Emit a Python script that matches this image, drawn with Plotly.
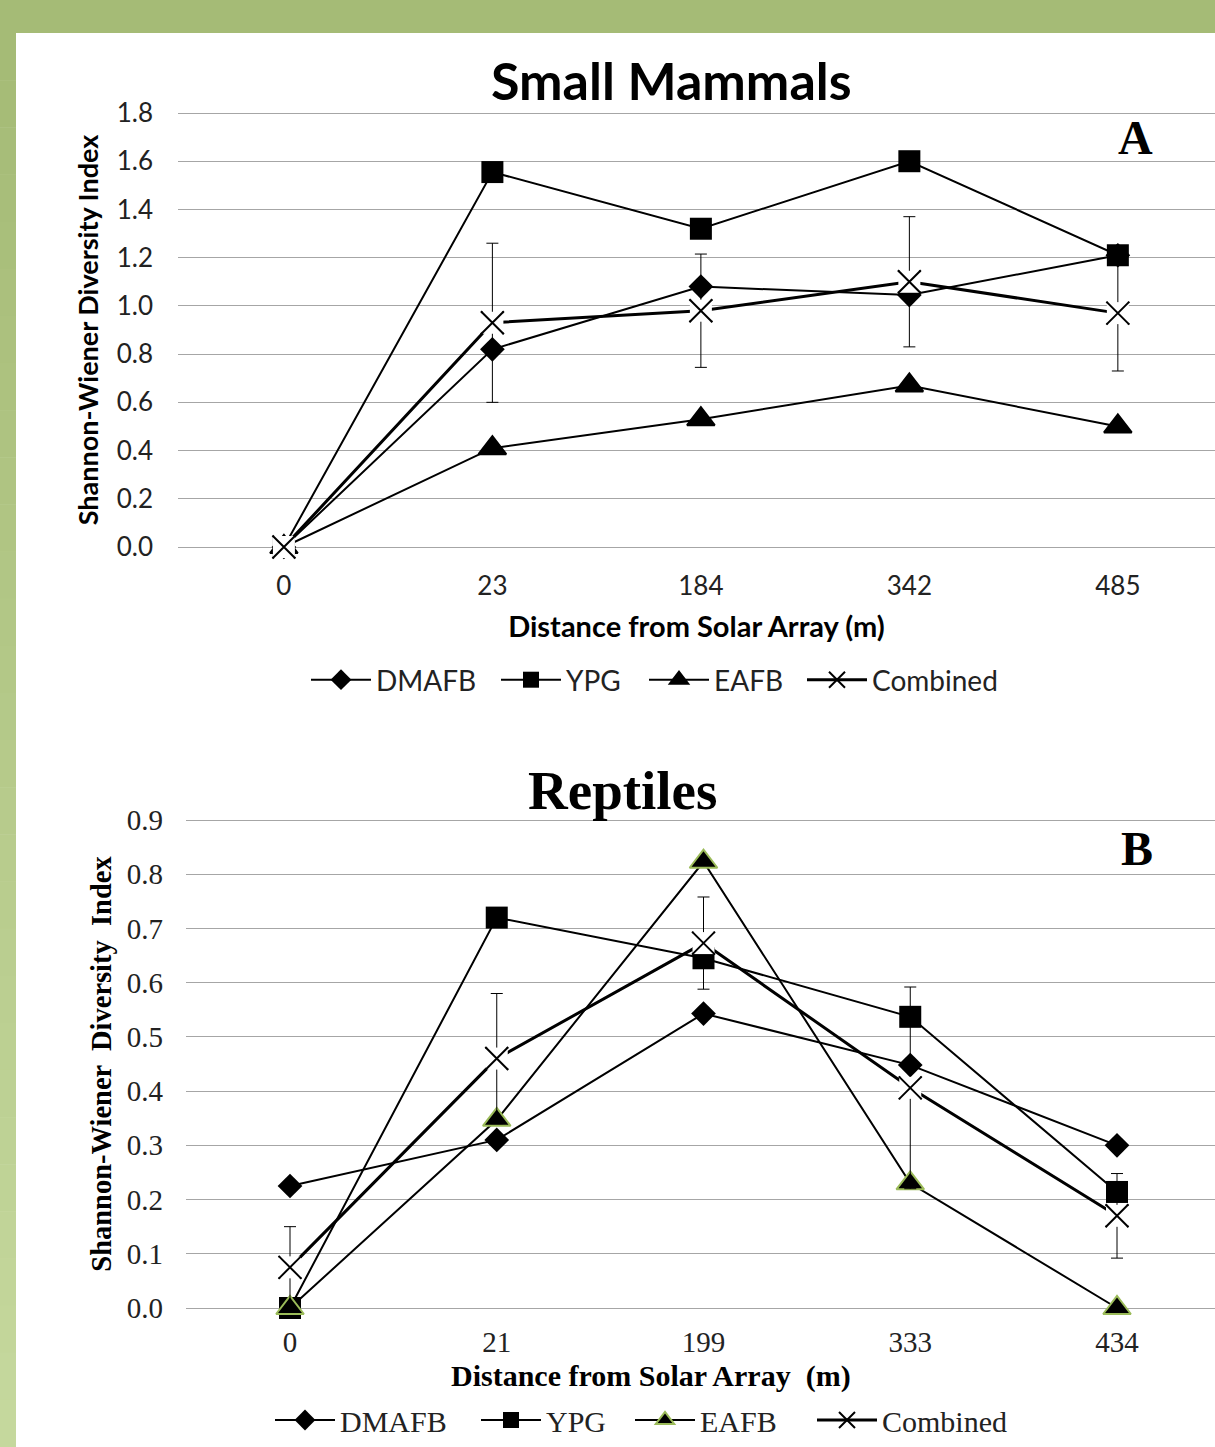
import plotly.graph_objects as go

# ---------------- data ----------------
cats_a = ["0", "23", "184", "342", "485"]
dmafb_a = [0.0, 0.82, 1.08, 1.045, 1.21]
ypg_a = [0.0, 1.555, 1.32, 1.60, 1.21]
eafb_a = [0.0, 0.41, 0.53, 0.67, 0.50]
comb_a = [0.0, 0.93, 0.98, 1.10, 0.97]
comb_a_err = [0.0, 0.33, 0.235, 0.27, 0.24]

cats_b = ["0", "21", "199", "333", "434"]
dmafb_b = [0.225, 0.31, 0.543, 0.448, 0.30]
ypg_b = [0.0, 0.72, 0.645, 0.537, 0.214]
eafb_b = [0.0, 0.347, 0.823, 0.23, 0.0]
comb_b = [0.075, 0.46, 0.673, 0.406, 0.17]
comb_b_err = [0.075, 0.12, 0.085, 0.186, 0.078]

series_names = ["DMAFB", "YPG", "EAFB", "Combined"]

W, H = 1215, 1447
SANS = "Lato, 'Open Sans', sans-serif"
SERIF = "'Liberation Serif', 'Times New Roman', serif"
GREEN = "#9bbb59"


def px(x):
    return x / W


def py(y):
    return 1 - y / H


fig = go.Figure()


def add_series(xa, ya, legends, cats, d, y_, e, c, ce, tri_line):
    base = dict(xaxis=xa, yaxis=ya, mode="lines+markers", cliponaxis=False)
    fig.add_trace(go.Scatter(x=cats, y=d, name=series_names[0], legend=legends[0],
                             line=dict(color="black", width=2),
                             marker=dict(symbol="diamond", size=19, color="black"),
                             **base))
    fig.add_trace(go.Scatter(x=cats, y=y_, name=series_names[1], legend=legends[1],
                             line=dict(color="black", width=2),
                             marker=dict(symbol="square", size=22, color="black"),
                             **base))
    fig.add_trace(go.Scatter(x=cats, y=e, name=series_names[2], legend=legends[2],
                             line=dict(color="black", width=2),
                             marker=dict(symbol="triangle-up", size=24, color="black",
                                         line=dict(color=tri_line, width=2)),
                             **base))
    fig.add_trace(go.Scatter(x=cats, y=c, name=series_names[3], legend=legends[3],
                             line=dict(color="black", width=3),
                             marker=dict(symbol="x-thin", size=22, color="black",
                                         line=dict(color="black", width=2)),
                             error_y=dict(type="data", array=ce, visible=True,
                                          color="black", thickness=1, width=6),
                             **base))
    # white background box behind the X markers (as in the original chart)
    fig.add_trace(go.Scatter(x=cats, y=c, xaxis=xa, yaxis=ya, mode="markers",
                             showlegend=False, hoverinfo="skip", cliponaxis=False,
                             marker=dict(symbol="square", size=22, color="white")))
    fig.add_trace(go.Scatter(x=cats, y=c, xaxis=xa, yaxis=ya, mode="markers",
                             showlegend=False, hoverinfo="skip", cliponaxis=False,
                             marker=dict(symbol="x-thin", size=23, color="black",
                                         line=dict(color="black", width=2))))


add_series("x", "y", ["legend", "legend2", "legend3", "legend4"],
           cats_a, dmafb_a, ypg_a, eafb_a, comb_a, comb_a_err, "black")
add_series("x2", "y2", ["legend5", "legend6", "legend7", "legend8"],
           cats_b, dmafb_b, ypg_b, eafb_b, comb_b, comb_b_err, GREEN)

# background bands (green frame of the poster)
shapes = [dict(type="rect", xref="paper", yref="paper", x0=0, x1=1, y0=py(33), y1=1,
               fillcolor="#a5bb76", line=dict(width=0), layer="below")]
n = 30
top_c = (165, 187, 118)
bot_c = (197, 216, 157)
for i in range(n):
    t = i / (n - 1)
    col = tuple(int(round(top_c[k] + (bot_c[k] - top_c[k]) * t)) for k in range(3))
    y0 = 33 + (H - 33) * i / n
    y1 = 33 + (H - 33) * (i + 1) / n
    shapes.append(dict(type="rect", xref="paper", yref="paper", x0=0, x1=px(16),
                       y0=py(y1 + 0.5), y1=py(y0), fillcolor="rgb(%d,%d,%d)" % col,
                       line=dict(width=0), layer="below"))

grid = "#a6a6a6"

pad_a = 0.006
pad_b = 0.003
ya0, ya1 = 547, 113
yb0, yb1 = 1308, 820
sa = (ya0 - ya1) / 1.8
sb = (yb0 - yb1) / 0.9


def leg(xpix, ypix, family, size):
    return dict(orientation="h", x=px(xpix), xanchor="left", y=py(ypix), yanchor="middle",
                font=dict(family=family, size=size, color="#222"),
                bgcolor="rgba(0,0,0,0)", itemsizing="trace", itemwidth=60,
                borderwidth=0)


legend_a_x = [306, 496, 644, 802]
legend_b_x = [270, 476, 630, 812]

layout_legends = {}
names_a = ["legend", "legend2", "legend3", "legend4"]
names_b = ["legend5", "legend6", "legend7", "legend8"]
for nm, xp in zip(names_a, legend_a_x):
    layout_legends[nm] = leg(xp, 680, SANS, 28)
for nm, xp in zip(names_b, legend_b_x):
    layout_legends[nm] = leg(xp, 1420, SERIF, 30)

fig.update_layout(
    width=W, height=H,
    margin=dict(l=0, r=0, t=0, b=0, autoexpand=False),
    paper_bgcolor="white", plot_bgcolor="white",
    shapes=shapes,
    xaxis=dict(domain=[px(178), 1], type="category", range=[-0.508, 4.466],
               automargin=False,
               showgrid=False, zeroline=False, showline=False, ticks="",
               ticklabelstandoff=20,
               tickfont=dict(family=SANS, size=26, color="#222"),
               title=dict(text="<b>Distance from Solar Array (m)</b>", standoff=16,
                          font=dict(family=SANS, size=29, color="black"))),
    yaxis=dict(domain=[py(ya0 + pad_a * sa), py(ya1 - pad_a * sa)],
               range=[-pad_a, 1.8 + pad_a],
               tickvals=[0, 0.2, 0.4, 0.6, 0.8, 1.0, 1.2, 1.4, 1.6, 1.8],
               tickformat=".1f", automargin=False,
               showgrid=True, gridcolor=grid, gridwidth=1, zeroline=False,
               showline=False, ticks="", ticklabelstandoff=24,
               tickfont=dict(family=SANS, size=26, color="#222"),
               title=dict(text="<b>Shannon-Wiener Diversity Index</b>", standoff=10,
                          font=dict(family=SANS, size=27, color="black"))),
    xaxis2=dict(domain=[px(186), 1], type="category", range=[-0.503, 4.474],
                anchor="y2", automargin=False,
                showgrid=False, zeroline=False, showline=False, ticks="",
                ticklabelstandoff=12,
                tickfont=dict(family=SERIF, size=29, color="#222")),
    yaxis2=dict(domain=[py(yb0 + pad_b * sb), py(yb1 - pad_b * sb)],
                range=[-pad_b, 0.9 + pad_b],
                tickvals=[0, 0.1, 0.2, 0.3, 0.4, 0.5, 0.6, 0.7, 0.8, 0.9], tickformat=".1f",
                anchor="x2", automargin=False,
                showgrid=True, gridcolor=grid, gridwidth=1, zeroline=False,
                showline=False, ticks="", ticklabelstandoff=22,
                tickfont=dict(family=SERIF, size=29, color="#222"),
                title=dict(text="<b>Shannon-Wiener  Diversity  Index</b>", standoff=6,
                           font=dict(family=SERIF, size=28.5, color="black"))),
    annotations=[
        dict(text="<b>Small Mammals</b>", xref="paper", yref="paper", x=px(671), y=py(80),
             xanchor="center", yanchor="middle",
             showarrow=False, font=dict(family=SANS, size=52, color="black")),
        dict(text="<b>A</b>", xref="paper", yref="paper", x=px(1135), y=py(138),
             xanchor="center", yanchor="middle",
             showarrow=False, font=dict(family=SERIF, size=48, color="black")),
        dict(text="<b>Reptiles</b>", xref="paper", yref="paper", x=px(622), y=py(790),
             xanchor="center", yanchor="middle",
             showarrow=False, font=dict(family=SERIF, size=55, color="black")),
        dict(text="<b>B</b>", xref="paper", yref="paper", x=px(1137), y=py(848),
             xanchor="center", yanchor="middle",
             showarrow=False, font=dict(family=SERIF, size=48, color="black")),
        dict(text="<b>Distance from Solar Array  (m)</b>", xref="paper", yref="paper",
             x=px(651), y=py(1376), xanchor="center", yanchor="middle",
             showarrow=False, font=dict(family=SERIF, size=30, color="black")),
    ],
    showlegend=True,
    **layout_legends,
)

fig.write_html("out.html", config={"displayModeBar": False},
               post_script="document.body.style.margin='0';")
